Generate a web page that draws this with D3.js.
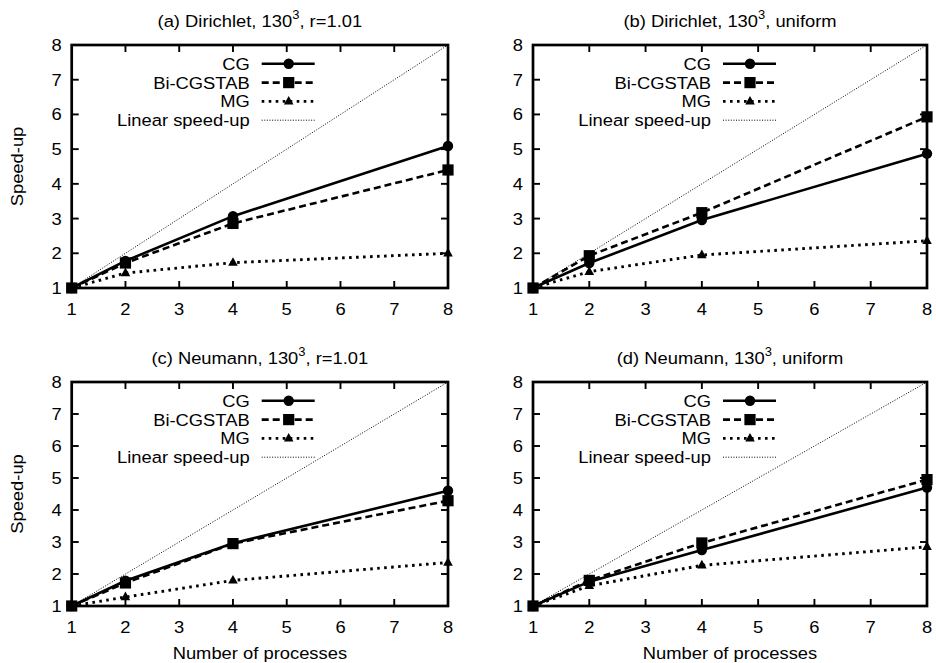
<!DOCTYPE html>
<html>
<head>
<meta charset="utf-8">
<script src="https://cdn.jsdelivr.net/npm/d3@7"></script>
<style>
  html, body { margin: 0; padding: 0; background: #fff; }
  svg { display: block; }
  text { font-family: "Liberation Sans", Arial, Helvetica, sans-serif; fill: #000; }
</style>
</head>
<body>
<svg id="chart" width="936" height="663"></svg>
<script>
// Number of MPI processes on the x axis
const processes = [1, 2, 4, 8];
const xTicks = [1, 2, 3, 4, 5, 6, 7, 8];
const yTicks = [1, 2, 3, 4, 5, 6, 7, 8];

const panelTitles = [
  ["(a) Dirichlet, 130", "3", ", r=1.01"],
  ["(b) Dirichlet, 130", "3", ", uniform"],
  ["(c) Neumann, 130", "3", ", r=1.01"],
  ["(d) Neumann, 130", "3", ", uniform"]
];

const seriesNames = ["CG", "Bi-CGSTAB", "MG", "Linear speed-up"];

// Measured speed-ups per panel
const cgA  = [1, 1.78, 3.07, 5.09];
const bicgA = [1, 1.72, 2.86, 4.40];
const mgA  = [1, 1.43, 1.73, 2.00];

const cgB  = [1, 1.72, 2.96, 4.87];
const bicgB = [1, 1.93, 3.17, 5.93];
const mgB  = [1, 1.47, 1.95, 2.36];

const cgC  = [1, 1.79, 2.96, 4.60];
const bicgC = [1, 1.72, 2.95, 4.29];
const mgC  = [1, 1.28, 1.80, 2.36];

const cgD  = [1, 1.76, 2.75, 4.70];
const bicgD = [1, 1.80, 2.97, 4.95];
const mgD  = [1, 1.63, 2.27, 2.85];

// Ideal speed-up equals the process count
const linear = processes.slice();

const panelData = [
  [cgA, bicgA, mgA, linear],
  [cgB, bicgB, mgB, linear],
  [cgC, bicgC, mgC, linear],
  [cgD, bicgD, mgD, linear]
];

// ---- layout & style ----
const svg = d3.select("#chart");
const FS = 17;       // base font size
const SX = 1.08;     // horizontal glyph stretch of the print font

const colsX = [[71.7, 448], [533, 927]];
const rowsY = [[45, 288], [382, 606]];

const styles = [
  { width: 2.6, dash: null,  marker: "circle" },
  { width: 2.6, dash: "7,4", marker: "square" },
  { width: 2.9, dash: "2.6,4.4", marker: "triangle" },
  { width: 1,   dash: "1,1.6", marker: null }
];

function label(g, x, y, str, anchor, rotate) {
  const t = g.append("text")
    .attr("transform", `translate(${x},${y})` + (rotate ? ` rotate(${rotate})` : "") + ` scale(${SX},1)`)
    .attr("text-anchor", anchor || "start")
    .style("font-size", FS + "px");
  if (str !== null) t.text(str);
  return t;
}

function drawMarker(g, type, cx, cy) {
  if (type === "circle") {
    g.append("circle").attr("cx", cx).attr("cy", cy).attr("r", 5.2).attr("fill", "#000");
  } else if (type === "square") {
    g.append("rect").attr("x", cx - 5.6).attr("y", cy - 5.6).attr("width", 11.2).attr("height", 11.2).attr("fill", "#000");
  } else if (type === "triangle") {
    g.append("path")
      .attr("d", `M${cx},${cy - 5.5} L${cx + 4.8},${cy + 3.2} L${cx - 4.8},${cy + 3.2} Z`)
      .attr("fill", "#000");
  }
}

panelData.forEach((series, i) => {
  const col = i % 2, row = Math.floor(i / 2);
  const [x0, x1] = colsX[col];
  const [y0, y1] = rowsY[row];

  const x = d3.scaleLinear().domain([1, 8]).range([x0, x1]);
  const y = d3.scaleLinear().domain([1, 8]).range([y1, y0]);

  const g = svg.append("g");

  // inward ticks on all four sides
  const tickLen = 7;
  const axes = g.append("g").attr("stroke", "#000").attr("stroke-width", 1.9);
  xTicks.forEach(v => {
    if (v === 1 || v === 8) return;
    axes.append("line").attr("x1", x(v)).attr("x2", x(v)).attr("y1", y1).attr("y2", y1 - tickLen);
    axes.append("line").attr("x1", x(v)).attr("x2", x(v)).attr("y1", y0).attr("y2", y0 + tickLen);
  });
  yTicks.forEach(v => {
    if (v === 1 || v === 8) return;
    axes.append("line").attr("y1", y(v)).attr("y2", y(v)).attr("x1", x0).attr("x2", x0 + tickLen);
    axes.append("line").attr("y1", y(v)).attr("y2", y(v)).attr("x1", x1).attr("x2", x1 - tickLen);
  });

  // tick labels
  xTicks.forEach(v => label(g, x(v), y1 + 26.5, String(v), "middle"));
  yTicks.forEach(v => label(g, x0 - 10, y(v) + 6, String(v), "end"));

  // title with superscript
  const tt = label(g, (x0 + x1) / 2, y0 - 18.5, null, "middle");
  tt.append("tspan").text(panelTitles[i][0]);
  tt.append("tspan").attr("dy", -7.5).style("font-size", "12px").text(panelTitles[i][1]);
  tt.append("tspan").attr("dy", 7.5).text(panelTitles[i][2]);

  if (col === 0) label(g, 23, (y0 + y1) / 2, "Speed-up", "middle", -90);
  if (row === 1) label(g, (x0 + x1) / 2, y1 + 52.5, "Number of processes", "middle");

  // legend
  const legX = x0 + 178;
  series.forEach((s, k) => {
    const ly = y0 + 18.8 + k * 18.8;
    label(g, legX, ly + 6, seriesNames[k], "end");
    g.append("line")
      .attr("x1", legX + 12).attr("x2", legX + 65)
      .attr("y1", ly).attr("y2", ly)
      .attr("stroke", "#000").attr("stroke-width", styles[k].width)
      .attr("stroke-dasharray", styles[k].dash);
    if (styles[k].marker) drawMarker(g, styles[k].marker, legX + 39, ly);
  });

  // data lines
  const lineGen = d3.line().x((d, j) => x(processes[j])).y(d => y(d));
  series.forEach((s, k) => {
    g.append("path")
      .datum(s)
      .attr("d", lineGen)
      .attr("fill", "none")
      .attr("stroke", "#000")
      .attr("stroke-width", styles[k].width)
      .attr("stroke-dasharray", styles[k].dash);
    if (styles[k].marker) s.forEach((v, j) => drawMarker(g, styles[k].marker, x(processes[j]), y(v)));
  });

  // frame
  g.append("rect")
    .attr("x", x0).attr("y", y0)
    .attr("width", x1 - x0).attr("height", y1 - y0)
    .attr("fill", "none").attr("stroke", "#000").attr("stroke-width", 2.7);
});
</script>
</body>
</html>
